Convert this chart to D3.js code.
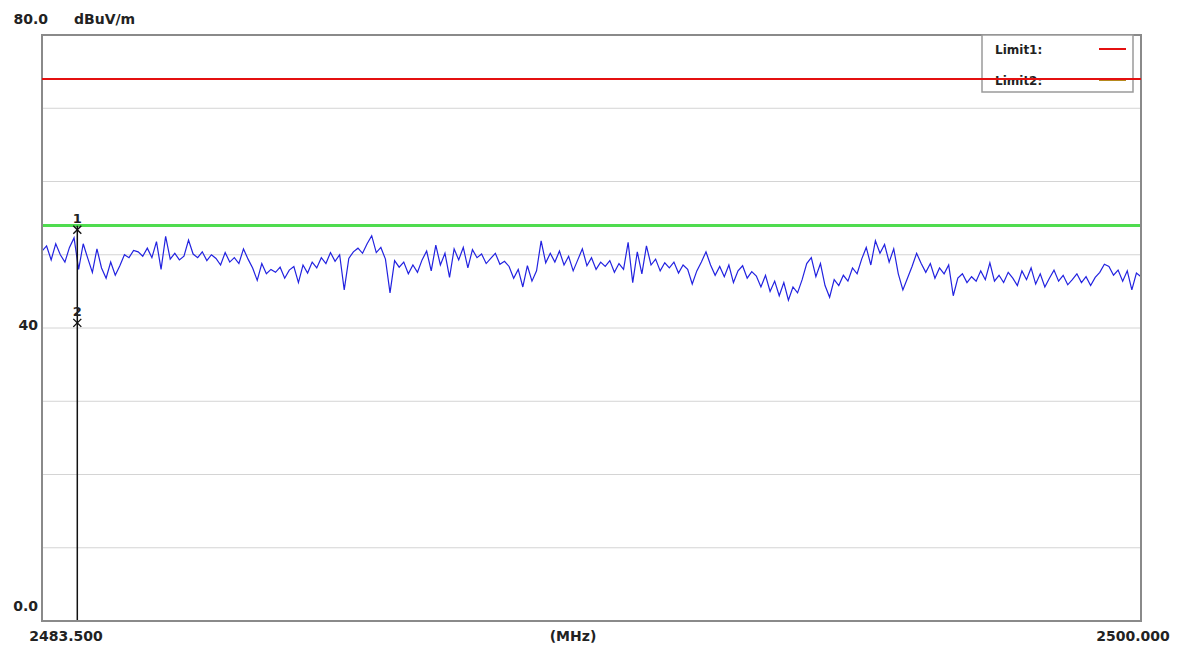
<!DOCTYPE html>
<html>
<head>
<meta charset="utf-8">
<script src="https://cdn.jsdelivr.net/npm/d3@7"></script>
<style>
  body { margin: 0; background: #fff; }
  svg text { font-family: "DejaVu Sans", Verdana, sans-serif; font-weight: bold; fill: #222; }
</style>
</head>
<body>
<svg id="chart" width="1179" height="646"></svg>
<script>
// sweep range and scale labels
var freqRange = [2483.5, 2500.0];
var levelRange = [0, 80];
var levelTicks = [10, 20, 30, 40, 50, 60, 70];
var yLabels = [{v: 80, t: '80.0'}, {v: 40, t: '40'}, {v: 0, t: '0.0'}];
var xLabels = ['2483.500', '(MHz)', '2500.000'];

// limit lines (dBuV/m)
var limits = [{name: 'Limit1:', level: 74, color: '#e41010'},
              {name: 'Limit2:', level: 54, color: '#b58a1e', plot: '#4fdc4f'}];

// markers: frequency (MHz), level
var markers = [{id: '1', f: 2484.03, v: 53.4}, {id: '2', f: 2484.03, v: 40.7}];

var trace = [
  50.5, 51.2, 49.3, 51.5, 50.0, 49.0, 51.0, 52.3,
  48.0, 51.5, 49.5, 47.6, 50.8, 48.2, 46.8, 49.0, 47.2, 48.5, 50.0,
  49.6, 50.6, 50.4, 49.8, 50.9, 49.6, 51.8,
  48.0, 52.5, 49.4, 50.2, 49.3, 49.8, 52.0,
  50.1, 49.6, 50.4, 49.2, 50.0, 49.5, 48.6, 50.3, 49.0, 49.6, 48.8,
  50.8, 49.4, 48.2, 46.5, 48.8, 47.4, 48.0, 47.6, 48.3, 46.8, 47.9, 48.4, 46.2, 48.6, 47.5,
  49.0, 48.2, 49.6, 48.8, 50.3, 49.1, 50.0, 45.2,
  49.5, 50.4, 50.9, 50.2, 51.5, 52.6, 50.3,
  51.0, 49.4, 44.8, 49.2, 48.3, 49.0, 47.4, 48.6, 47.6, 49.3,
  50.5, 47.8, 51.3, 48.6, 50.2, 46.9, 50.8, 49.3, 51.0, 48.2, 50.7,
  49.6, 50.1, 48.8, 49.5, 50.2, 48.7, 49.1, 48.4,
  46.8, 48.0, 45.6, 48.5, 46.4, 47.8, 51.9, 48.9,
  50.2, 49.0, 50.5, 48.6, 49.8, 47.8, 49.3, 50.8, 48.5, 49.6, 48.0,
  49.0, 48.4, 49.2, 47.6, 48.8, 48.0,
  51.7, 46.2, 50.4, 47.4, 51.2,
  48.6, 49.4, 47.8, 48.9, 48.2, 49.0, 47.5, 48.6, 48.0, 46.0, 47.8,
  49.0, 50.4, 48.6, 47.2, 48.4, 47.0, 48.6, 46.2, 47.8, 48.5, 46.8, 47.7, 47.1, 45.6, 47.2,
  45.0, 46.4, 44.4, 46.2, 43.8, 45.6, 44.8, 46.6,
  48.8, 49.6, 47.0, 48.8, 45.8, 44.2,
  46.6, 45.8, 47.2, 46.4, 48.2, 47.4,
  49.4, 51.0, 48.6, 51.9, 50.2, 51.4, 49.0, 50.8, 47.4,
  45.2, 46.8, 48.4, 50.2, 48.8,
  47.6, 48.8, 46.8, 48.2, 47.4, 48.6, 44.4,
  46.8, 47.4, 46.2, 47.0, 46.4, 47.8, 46.6, 48.9, 46.4, 47.2,
  46.2, 47.6, 46.8, 45.8, 47.8, 46.6, 48.2, 46.0, 47.4, 45.6, 46.8, 47.9, 46.4, 47.2, 45.9, 46.6, 47.4, 46.2, 47.0, 45.8, 46.9, 47.6, 48.7,
  48.4, 47.2, 47.9, 46.4, 47.8, 45.2, 47.5, 47.0
];

(function () {
  var svg = d3.select('#chart'),
      plotLeft = 42, plotRight = 1141, plotTop = 35, plotBottom = 621;

  var x = d3.scaleLinear().domain(freqRange).range([plotLeft, plotRight]);
  var y = d3.scaleLinear().domain(levelRange).range([plotBottom, plotTop]);

  var step = (freqRange[1] - freqRange[0]) / (trace.length - 1);

  // grid
  svg.selectAll('line.grid').data(levelTicks).enter().append('line')
     .attr('class', 'grid')
     .attr('x1', plotLeft).attr('x2', plotRight)
     .attr('y1', function (d) { return y(d); })
     .attr('y2', function (d) { return y(d); })
     .attr('stroke', '#d4d4d4').attr('stroke-width', 1);

  // limit lines on the plot
  svg.selectAll('line.limit').data(limits).enter().append('line')
     .attr('class', 'limit')
     .attr('x1', plotLeft).attr('x2', plotRight)
     .attr('y1', function (d) { return y(d.level); })
     .attr('y2', function (d) { return y(d.level); })
     .attr('stroke', function (d) { return d.plot || d.color; })
     .attr('stroke-width', function (d, i) { return i == 0 ? 2 : 3; });

  // trace
  var line = d3.line()
    .x(function (d, i) { return x(freqRange[0] + i * step); })
    .y(function (d) { return y(d); });

  svg.append('path').datum(trace)
     .attr('d', line)
     .attr('fill', 'none')
     .attr('stroke', '#2222e0')
     .attr('stroke-width', 1.2);

  // marker line
  svg.append('line')
     .attr('x1', x(markers[0].f)).attr('x2', x(markers[0].f))
     .attr('y1', y(markers[0].v) - 4).attr('y2', plotBottom)
     .attr('stroke', '#111').attr('stroke-width', 1.5);

  var mk = svg.selectAll('g.marker').data(markers).enter().append('g')
     .attr('class', 'marker')
     .attr('transform', function (d) { return 'translate(' + x(d.f) + ',' + y(d.v) + ')'; });

  mk.append('path')
    .attr('d', 'M-4,-4L4,4M-4,4L4,-4')
    .attr('stroke', '#111').attr('stroke-width', 1.4);

  mk.append('text')
    .attr('x', 0).attr('y', -7)
    .attr('text-anchor', 'middle')
    .attr('font-size', 13)
    .text(function (d) { return d.id; });

  // frame
  svg.append('rect')
     .attr('x', plotLeft).attr('y', plotTop)
     .attr('width', plotRight - plotLeft).attr('height', plotBottom - plotTop)
     .attr('fill', 'none')
     .attr('stroke', '#8a8a8a').attr('stroke-width', 2);

  // legend
  var legend = svg.append('g').attr('transform', 'translate(982,35)');
  legend.append('rect')
     .attr('width', 151).attr('height', 57)
     .attr('fill', '#fff').attr('stroke', '#9a9a9a').attr('stroke-width', 1.5);

  var item = legend.selectAll('g.item').data(limits).enter().append('g')
     .attr('transform', function (d, i) { return 'translate(0,' + (14 + i * 31) + ')'; });

  item.append('text')
     .attr('x', 13).attr('y', 5)
     .attr('font-size', 12)
     .text(function (d) { return d.name; });

  item.append('line')
     .attr('x1', 117).attr('x2', 144)
     .attr('stroke', function (d) { return d.color; })
     .attr('stroke-width', 2);

  // red limit runs over the legend
  svg.append('line')
     .attr('x1', plotLeft).attr('x2', plotRight)
     .attr('y1', y(limits[0].level)).attr('y2', y(limits[0].level))
     .attr('stroke', limits[0].color).attr('stroke-width', 2);

  // axis labels
  var yPos = {80: [48, 24], 40: [38, 330], 0: [38, 611]};
  svg.selectAll('text.ylab').data(yLabels).enter().append('text')
     .attr('class', 'ylab')
     .attr('x', function (d) { return yPos[d.v][0]; })
     .attr('y', function (d) { return yPos[d.v][1]; })
     .attr('text-anchor', 'end')
     .attr('font-size', 14)
     .text(function (d) { return d.t; });

  svg.append('text')
     .attr('x', 74).attr('y', 24)
     .attr('font-size', 14)
     .text('dBuV/m');

  svg.selectAll('text.xlab').data(xLabels).enter().append('text')
     .attr('class', 'xlab')
     .attr('x', function (d, i) { return [66, 573, 1133][i]; })
     .attr('y', 641)
     .attr('text-anchor', 'middle')
     .attr('font-size', 14)
     .text(function (d) { return d; });
})();
</script>
</body>
</html>
